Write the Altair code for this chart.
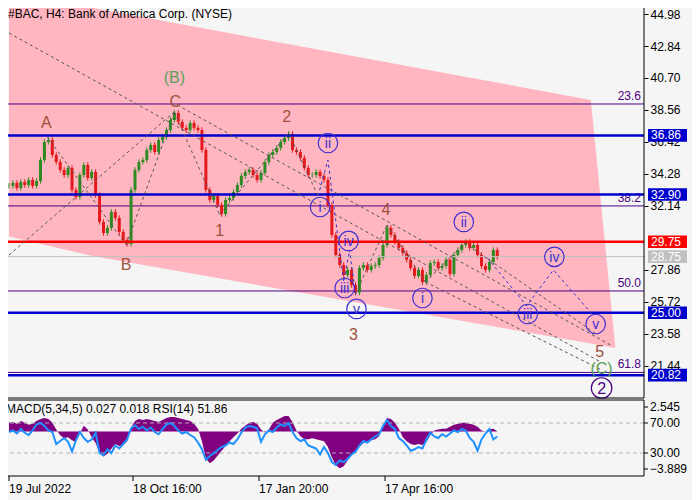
import altair as alt
import pandas as pd
import numpy as np

# ---------------- data ----------------
title_text = ["#BAC, H4:  Bank of America Corp. (NYSE)"]
ind_text = ["MACD(5,34,5) 0.027 0.018 RSI(14) 51.86"]

bar_x = list(range(4, 501, 4))
close = [33.48, 33.68, 33.34, 33.74, 33.54, 33.88, 33.48, 33.81, 35.21, 36.42,
         36.55, 35.55, 35.08, 34.55, 34.21, 34.68, 33.21, 32.74, 34.21, 34.88,
         34.01, 34.41, 32.87, 31.07, 30.33, 30.67, 31.74, 31.33, 30.40, 29.86,
         29.60, 33.21, 34.55, 35.08, 35.21, 35.88, 36.22, 35.75, 36.55, 36.75,
         37.22, 37.89, 38.36, 37.76, 37.36, 37.22, 37.69, 37.36, 37.22, 35.88,
         33.21, 32.54, 32.81, 32.20, 31.60, 32.54, 32.67, 33.07, 33.54, 34.14,
         34.41, 34.55, 34.21, 33.88, 34.35, 35.08, 35.55, 35.75, 36.02, 36.42,
         36.69, 36.95, 35.88, 35.75, 35.35, 34.68, 34.21, 34.21, 34.41, 34.14,
         33.88, 32.20, 30.20, 28.86, 28.19, 27.52, 27.86, 26.85, 26.35, 27.99,
         28.19, 27.86, 28.12, 28.19, 28.66, 29.53, 30.67, 30.20, 29.73, 29.33,
         28.99, 28.53, 27.99, 27.46, 27.86, 27.05, 27.52, 28.32, 28.39, 27.99,
         28.12, 28.53, 27.59, 28.86, 29.19, 29.53, 29.73, 29.33, 29.53, 28.86,
         28.12, 27.86, 28.39, 29.19, 28.73]

macd = [0.9, 1.0, 0.8, 1.1, 0.9, 0.7, 0.8, 1.1, 1.3, 1.4,
        1.3, 0.9, 0.2, -0.4, -0.7, -0.6, -0.9, -1.1, -0.2, 0.6,
        0.2, -0.6, -1.2, -2.2, -2.6, -2.3, -1.8, -1.3, -1.5, -1.4,
        -1.0, 0.4, 1.1, 1.3, 1.2, 1.3, 1.2, 1.1, 1.0, 1.2,
        1.4, 1.5, 1.5, 1.4, 1.3, 1.2, 1.1, 0.8, 0.3, -1.0,
        -2.8, -3.3, -3.0, -2.5, -2.0, -1.5, -1.0, -0.6, -0.2, 0.3,
        0.6, 0.9, 1.0, 0.8, 0.2, -0.1, 0.2, 0.9, 1.2, 1.4,
        1.6, 1.6, 1.0, 0.1, -0.5, -0.8, -0.8, -0.7, -0.8, -0.9,
        -1.0, -1.6, -2.7, -3.5, -3.8, -3.6, -3.0, -2.3, -2.2, -1.6,
        -1.2, -1.0, -0.9, -0.8, -0.5, 0.6, 1.4, 1.3, 0.9, 0.3,
        -0.6, -1.0, -1.3, -1.4, -1.3, -1.4, -1.1, -0.4, 0.1, 0.2,
        0.3, 0.3, 0.5, 0.7, 0.8, 0.9, 0.9, 0.8, 0.7, 0.5,
        0.1, 0.0, 0.2, 0.3, 0.03]

rsi = [58, 60, 56, 62, 57, 54, 60, 68, 70, 66,
       60, 58, 42, 46, 50, 45, 32, 47, 58, 50,
       45, 48, 57, 30, 27, 35, 30, 40, 36, 42,
       48, 63, 67, 62, 65, 60, 64, 58, 55, 62,
       68, 70, 66, 60, 56, 58, 54, 51, 44, 35,
       21, 26, 30, 34, 38, 40, 44, 42, 48, 57,
       64, 66, 65, 63, 45, 55, 60, 58, 64, 68,
       66, 70, 58, 50, 46, 48, 40, 38, 36, 28,
       38, 30, 18, 14, 20, 18, 22, 28, 32, 40,
       46, 44, 48, 52, 55, 66, 74, 66, 62, 50,
       46, 40, 33, 35, 38, 36, 48, 57, 52, 50,
       55, 52, 56, 60, 58, 62, 60, 50, 45, 33,
       48, 56, 62, 48, 52]

price_ticks = [44.98, 42.84, 40.70, 38.56, 36.42, 34.28, 32.14, 27.86, 25.72, 23.58, 21.44]
date_ticks = [4, 130, 258, 386]
date_labels = ["19 Jul 2022", "18 Oct 16:00", "17 Jan 20:00", "17 Apr 16:00"]

level_prices = [36.86, 32.90, 29.75, 28.75, 25.00, 20.82]
level_kind = ["support", "support", "pivot", "last", "support", "support"]

fib_prices = [38.96, 32.14, 26.45, 21.00]
fib_labels = ["23.6", "38.2", "50.0", "61.8"]

channel_x = [4, 90, 595, 620]
channel_top = [45.38, 45.38, 39.23, 22.64]
channel_bottom = [30.10, 28.77, 22.94, 22.64]

wave_labels = ["A", "B", "C", "1", "2", "3", "4", "5"]
wave_x = [42, 123, 173, 218, 286, 354, 387, 604]
wave_p = [37.69, 28.19, 39.09, 30.46, 38.09, 23.51, 31.87, 22.37]

green_labels = ["(B)", "(C)"]
green_x = [172, 606]
green_p = [40.70, 21.23]

minor_labels = ["ii", "i", "iv", "iii", "v", "i", "ii", "iii", "iv", "v"]
minor_x = [328, 320, 349, 345, 357, 424, 466, 531, 558, 600]
minor_p = [36.35, 32.07, 29.80, 26.65, 25.25, 25.98, 31.07, 24.91, 28.73, 24.24]

major_labels = ["2"]
major_x = [606]
major_p = [19.96]

gray_seg_x = [[4, 605], [175, 615], [4, 172], [43, 123], [123, 172], [172, 218],
              [218, 288], [288, 318], [356, 388], [388, 427], [427, 467],
              [427, 605], [467, 600]]
gray_seg_p = [[43.71, 21.70], [38.89, 22.84], [28.85, 38.43], [36.75, 29.53],
              [29.53, 38.43], [38.43, 31.54], [31.54, 37.02], [37.02, 32.81],
              [26.25, 30.87], [30.87, 27.05], [27.05, 29.66],
              [27.05, 21.20], [29.66, 23.60]]

blue_seg_x = [[318, 328, 344, 350, 356], [490, 530, 557, 598]]
blue_seg_p = [[32.81, 35.21, 27.05, 29.19, 26.25], [28.66, 25.45, 27.86, 24.78]]

rsi_levels = [70, 30]
macd_marks = [2.545, -3.889]

# ---------------- layout ----------------
W = 640            # plot width (px)
H_MAIN = 394       # price panel height
GAP = 2
H_IND = 76         # indicator panel height
H = H_MAIN + GAP + H_IND
FONT = "Liberation Sans"
BROWN = "#A0503C"
VIOLET = "#3F2FD0"
INDIGO = "#4B0082"

x_scale = alt.Scale(domain=[4, 644], nice=False, zero=False)
p_scale = alt.Scale(domain=[19.29, 45.65], range=[H_MAIN, 0], nice=False, zero=False)
m_scale = alt.Scale(domain=[-4.615, 3.27], range=[H, H_MAIN + GAP], nice=False, zero=False)
r_scale = alt.Scale(domain=[-0.67, 100.67], range=[H, H_MAIN + GAP], nice=False, zero=False)
X = alt.X("x:Q", scale=x_scale, axis=None)


def P(field):
    return alt.Y(field, scale=p_scale, axis=None)


def M(field):
    return alt.Y(field, scale=m_scale, axis=None)


def R(field):
    return alt.Y(field, scale=r_scale, axis=None)


cdf = pd.DataFrame({"x": bar_x, "close": close})
cdf["open"] = cdf["close"].shift(1).fillna(cdf["close"])
cdf["dir"] = np.where(cdf["close"] >= cdf["open"], "up", "down")

layers = []

chan_df = pd.DataFrame({"x": channel_x, "top": channel_top, "bot": channel_bottom})
layers.append(alt.Chart(chan_df).mark_area(color="#FFB6C1", opacity=1).encode(
    x=X,
    y=alt.Y("top:Q", scale=p_scale, axis=alt.Axis(
        orient="right", values=price_ticks, format=".2f", tickSize=4,
        tickColor="black", domain=False, labelColor="black",
        labelFont=FONT, labelFontSize=12, labelPadding=2, grid=False,
        title=None, labelOverlap=False)),
    y2="bot:Q",
))

fib_df = pd.DataFrame({"p": fib_prices, "lab": fib_labels})
layers.append(alt.Chart(fib_df).mark_rule(color=INDIGO, strokeWidth=1).encode(y=P("p:Q")))
layers.append(alt.Chart(fib_df).mark_text(align="right", baseline="bottom", dy=-1,
                                          color=INDIGO, font=FONT, fontSize=12).encode(
    x=alt.value(W - 3), y=P("p:Q"), text="lab:N"))

candle_colors = {"up": "#2E8B22", "down": "#E3191B"}
for d, col in candle_colors.items():
    base = alt.Chart(cdf).transform_filter(f"datum.dir == '{d}'")
    layers.append(base.transform_calculate(
        lo="min(datum.open, datum.close) - 0.18",
        hi="max(datum.open, datum.close) + 0.18").mark_rule(
        color=col, strokeWidth=1).encode(x=X, y=P("lo:Q"), y2="hi:Q"))
    layers.append(base.mark_bar(color=col, width=3).encode(
        x=X, y=P("open:Q"), y2="close:Q"))

lv = pd.DataFrame({"p": level_prices, "kind": level_kind})
kind_style = {"support": ("#0000CD", 2.5), "pivot": ("#FF0000", 2.5), "last": ("#C0C0C0", 1)}
for k, (col, sw) in kind_style.items():
    sub = alt.Chart(lv).transform_filter(f"datum.kind == '{k}'")
    layers.append(sub.mark_rule(color=col, strokeWidth=sw).encode(y=P("p:Q")))

seg_rows = []
for i, (xx, pp) in enumerate(zip(gray_seg_x, gray_seg_p)):
    for a, b in zip(xx, pp):
        seg_rows.append({"seg": i, "x": a, "p": b})
layers.append(alt.Chart(pd.DataFrame(seg_rows)).mark_line(
    color="#555555", strokeWidth=1, strokeDash=[3, 3]).encode(
    x=X, y=P("p:Q"), detail="seg:N"))

bseg_rows = []
for i, (xx, pp) in enumerate(zip(blue_seg_x, blue_seg_p)):
    for a, b in zip(xx, pp):
        bseg_rows.append({"seg": i, "x": a, "p": b})
layers.append(alt.Chart(pd.DataFrame(bseg_rows)).mark_line(
    color="#3333CC", strokeWidth=1, strokeDash=[3, 3]).encode(
    x=X, y=P("p:Q"), detail="seg:N"))

for k, (col, sw) in kind_style.items():
    sub = alt.Chart(lv).transform_filter(f"datum.kind == '{k}'")
    layers.append(sub.transform_calculate(b0="datum.p - 0.42", b1="datum.p + 0.42").mark_rect(
        color=col).encode(x=alt.value(W + 4), x2=alt.value(W + 43), y=P("b0:Q"), y2="b1:Q"))
layers.append(alt.Chart(lv).mark_text(align="left", baseline="middle", color="white",
                                      font=FONT, fontSize=12).encode(
    x=alt.value(W + 7), y=P("p:Q"), text=alt.Text("p:Q", format=".2f")))

wave_df = pd.DataFrame({"x": wave_x, "p": wave_p, "t": wave_labels})
layers.append(alt.Chart(wave_df).mark_text(font=FONT, fontSize=16, color=BROWN,
                                           baseline="middle").encode(x=X, y=P("p:Q"), text="t:N"))
green_df = pd.DataFrame({"x": green_x, "p": green_p, "t": green_labels})
layers.append(alt.Chart(green_df).mark_text(font=FONT, fontSize=16, color="#5A9E5A",
                                            baseline="middle").encode(x=X, y=P("p:Q"), text="t:N"))

minor_df = pd.DataFrame({"x": minor_x, "p": minor_p, "t": minor_labels})
layers.append(alt.Chart(minor_df).mark_point(shape="circle", filled=False, size=380,
                                             strokeWidth=1.2, color=VIOLET, opacity=1).encode(
    x=X, y=P("p:Q")))
layers.append(alt.Chart(minor_df).mark_text(font=FONT, fontSize=14, color=VIOLET,
                                            baseline="middle", dy=1).encode(x=X, y=P("p:Q"), text="t:N"))
major_df = pd.DataFrame({"x": major_x, "p": major_p, "t": major_labels})
layers.append(alt.Chart(major_df).mark_point(shape="circle", filled=False, size=420,
                                             strokeWidth=1.2, color=INDIGO, opacity=1).encode(
    x=X, y=P("p:Q")))
layers.append(alt.Chart(major_df).mark_text(font=FONT, fontSize=16, color=INDIGO,
                                            baseline="middle", dy=1).encode(x=X, y=P("p:Q"), text="t:N"))

layers.append(alt.Chart(pd.DataFrame({"t": title_text})).mark_text(
    align="left", baseline="middle", font=FONT, fontSize=12, color="black").encode(
    x=alt.value(4), y=alt.value(10), text="t:N"))

# ---- indicator panel ----
mdf = pd.DataFrame({"x": bar_x, "macd": macd, "rsi": rsi})
layers.append(alt.Chart(mdf).mark_area(color="#800080", opacity=1).encode(
    x=X, y=M("macd:Q"), y2=alt.datum(0)))
rl_df = pd.DataFrame({"v": rsi_levels})
layers.append(alt.Chart(rl_df).mark_rule(color="#B4B4B4", strokeDash=[4, 3]).encode(y=R("v:Q")))
layers.append(alt.Chart(mdf).mark_line(color="#1E90FF", strokeWidth=2).encode(x=X, y=R("rsi:Q")))
layers.append(alt.Chart(rl_df).mark_rule(color="black").encode(
    x=alt.value(W), x2=alt.value(W + 4), y=R("v:Q")))
layers.append(alt.Chart(rl_df).mark_text(align="left", baseline="middle", font=FONT,
                                         fontSize=12, color="black").encode(
    x=alt.value(W + 6), y=R("v:Q"), text=alt.Text("v:Q", format=".2f")))
mm_df = pd.DataFrame({"v": macd_marks})
layers.append(alt.Chart(mm_df).mark_rule(color="black").encode(
    x=alt.value(W), x2=alt.value(W + 4), y=M("v:Q")))
layers.append(alt.Chart(mm_df).mark_text(align="left", baseline="middle", font=FONT,
                                         fontSize=12, color="black").encode(
    x=alt.value(W + 6), y=M("v:Q"), text=alt.Text("v:Q", format=".3f")))
layers.append(alt.Chart(pd.DataFrame({"t": ind_text})).mark_text(
    align="left", baseline="middle", font=FONT, fontSize=12, color="black").encode(
    x=alt.value(2), y=alt.value(H_MAIN + GAP + 9), text="t:N"))

dt_df = pd.DataFrame({"x": date_ticks, "lab": date_labels})
layers.append(alt.Chart(dt_df).mark_rule(color="black").encode(
    x=X, y=alt.value(H), y2=alt.value(H + 5)))
layers.append(alt.Chart(dt_df).mark_text(align="left", baseline="middle", font=FONT,
                                         fontSize=12, color="black").encode(
    x=X, y=alt.value(H + 13), text="lab:N"))

# ---- panel frames ----
frame_df = pd.DataFrame({"panel": ["main", "ind"]})
layers.append(alt.Chart(frame_df).transform_filter("datum.panel == 'main'").mark_rect(
    filled=False, stroke="black", strokeWidth=1).encode(
    x=alt.value(0), x2=alt.value(W), y=alt.value(0), y2=alt.value(H_MAIN)))
layers.append(alt.Chart(frame_df).transform_filter("datum.panel == 'ind'").mark_rect(
    filled=False, stroke="black", strokeWidth=1).encode(
    x=alt.value(0), x2=alt.value(W), y=alt.value(H_MAIN + GAP), y2=alt.value(H)))

chart = alt.layer(*layers).resolve_scale(y="independent").properties(
    width=W, height=H,
    autosize=alt.AutoSizeParams(type="none"),
    padding={"left": -4, "top": -4, "right": 48, "bottom": 26},
).configure(background="#F5F5F5").configure_view(stroke=None)

chart.save("out.html", embed_options={"renderer": "svg", "actions": False})
